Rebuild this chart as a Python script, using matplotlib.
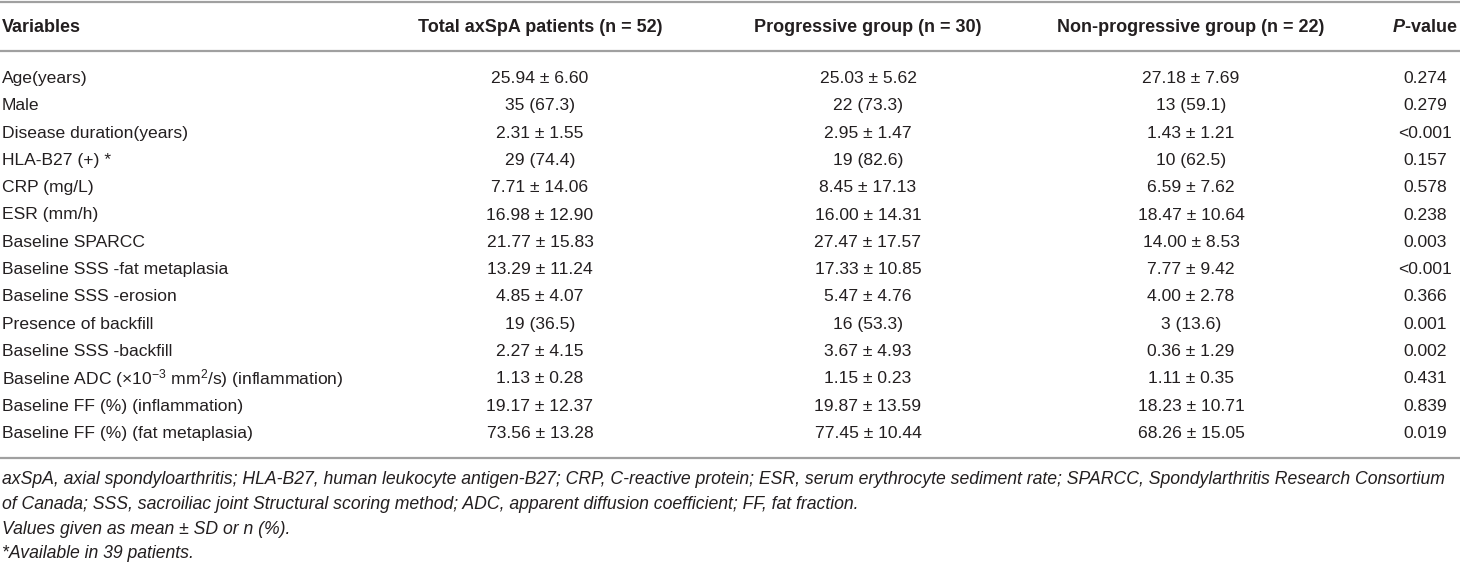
import matplotlib
matplotlib.use("Agg")
import matplotlib.pyplot as plt

plt.rcParams["font.family"] = ["Liberation Sans", "DejaVu Sans"]
plt.rcParams["mathtext.fontset"] = "custom"
plt.rcParams["mathtext.rm"] = "Liberation Sans"
plt.rcParams["mathtext.it"] = "Liberation Sans:italic"
plt.rcParams["mathtext.bf"] = "Liberation Sans:bold"
plt.rcParams["mathtext.bfit"] = "Liberation Sans:italic:bold"

# table content
headers = ["Variables", "Total axSpA patients (n = 52)", "Progressive group (n = 30)",
           "Non-progressive group (n = 22)", r"$\mathbfit{P}$-value"]

variables = ["Age(years)", "Male", "Disease duration(years)", "HLA-B27 (+) *",
             "CRP (mg/L)", "ESR (mm/h)", "Baseline SPARCC", "Baseline SSS -fat metaplasia",
             "Baseline SSS -erosion", "Presence of backfill", "Baseline SSS -backfill",
             r"Baseline ADC (×10$^{-3}$ mm$^{2}$/s) (inflammation)",
             "Baseline FF (%) (inflammation)", "Baseline FF (%) (fat metaplasia)"]

total = ["25.94 ± 6.60", "35 (67.3)", "2.31 ± 1.55", "29 (74.4)", "7.71 ± 14.06",
         "16.98 ± 12.90", "21.77 ± 15.83", "13.29 ± 11.24", "4.85 ± 4.07", "19 (36.5)",
         "2.27 ± 4.15", "1.13 ± 0.28", "19.17 ± 12.37", "73.56 ± 13.28"]

progressive = ["25.03 ± 5.62", "22 (73.3)", "2.95 ± 1.47", "19 (82.6)", "8.45 ± 17.13",
               "16.00 ± 14.31", "27.47 ± 17.57", "17.33 ± 10.85", "5.47 ± 4.76", "16 (53.3)",
               "3.67 ± 4.93", "1.15 ± 0.23", "19.87 ± 13.59", "77.45 ± 10.44"]

non_progressive = ["27.18 ± 7.69", "13 (59.1)", "1.43 ± 1.21", "10 (62.5)", "6.59 ± 7.62",
                   "18.47 ± 10.64", "14.00 ± 8.53", "7.77 ± 9.42", "4.00 ± 2.78", "3 (13.6)",
                   "0.36 ± 1.29", "1.11 ± 0.35", "18.23 ± 10.71", "68.26 ± 15.05"]

p_values = ["0.274", "0.279", "<0.001", "0.157", "0.578", "0.238", "0.003", "<0.001",
            "0.366", "0.001", "0.002", "0.431", "0.839", "0.019"]

footnotes = [
    "axSpA, axial spondyloarthritis; HLA-B27, human leukocyte antigen-B27; CRP, C-reactive protein; "
    "ESR, serum erythrocyte sediment rate; SPARCC, Spondylarthritis Research Consortium",
    "of Canada; SSS, sacroiliac joint Structural scoring method; ADC, apparent diffusion coefficient; FF, fat fraction.",
    "Values given as mean ± SD or n (%).",
    "*Available in 39 patients.",
]

W, H = 1460, 566
fig = plt.figure(figsize=(W / 100, H / 100), dpi=100)
ax = fig.add_axes([0, 0, 1, 1])
ax.set_xlim(0, W)
ax.set_ylim(H, 0)
ax.axis("off")

txt_col = "#231f20"
rule_col = "#a0a0a0"
fs = 12.6
head_fs = 13.0

# column centres (first column left aligned)
col_x = [2, 540, 868, 1191, 1425]
header_y = 28
row_y0, row_dy = 78.5, 27.3

# horizontal rules
for yy in (2, 51, 458):
    ax.plot([0, W], [yy, yy], color=rule_col, lw=1.6, solid_capstyle="butt")

# header
for i, h in enumerate(headers):
    ax.text(col_x[i], header_y, h, ha="left" if i == 0 else "center", va="center",
            fontsize=head_fs, fontweight="bold", color=txt_col)

# body
columns = [variables, total, progressive, non_progressive, p_values]
for i, col in enumerate(columns):
    for r, val in enumerate(col):
        ax.text(col_x[i], row_y0 + r * row_dy, val, ha="left" if i == 0 else "center",
                va="center", fontsize=fs, color=txt_col)

# footnotes, italic; squeeze the long first line to the page width
fig.canvas.draw()
rend = fig.canvas.get_renderer()
foot_y0, foot_dy = 480, 24.6
foot_fs = fs
probe = ax.text(2, foot_y0, footnotes[0], ha="left", va="center", fontsize=foot_fs,
                style="italic", color=txt_col)
wpx = probe.get_window_extent(rend).width
probe.remove()
foot_fs = foot_fs * 1452 / wpx
for k, line in enumerate(footnotes):
    ax.text(2, foot_y0 + k * foot_dy, line, ha="left", va="center", fontsize=foot_fs,
            style="italic", color=txt_col)

fig.savefig("out.png", dpi=100)
